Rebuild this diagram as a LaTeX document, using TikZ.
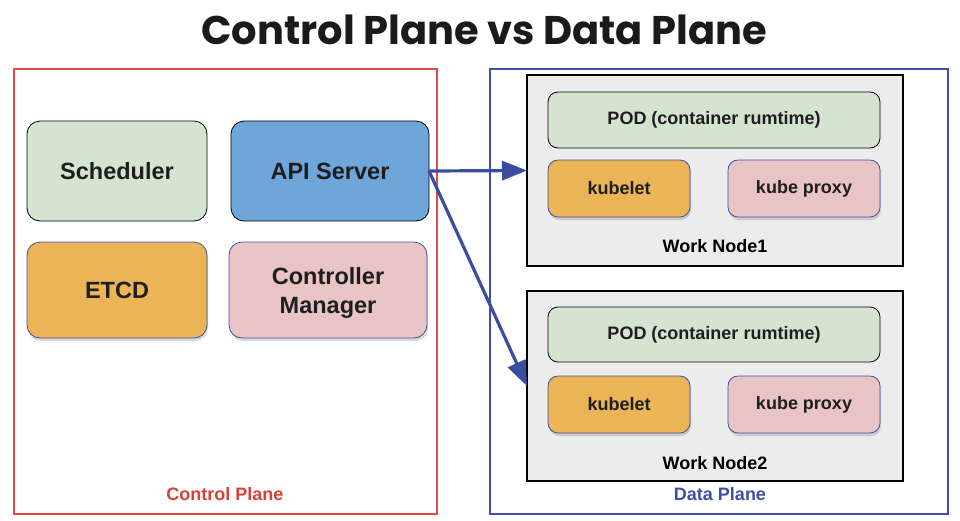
\documentclass[tikz,border=0pt]{standalone}
\usepackage{fontspec}
\setmainfont{Liberation Sans}
\newfontfamily\titlefont{Poppins}
\usetikzlibrary{arrows.meta,shadows}
\definecolor{cgreen}{HTML}{D5E4D1}
\definecolor{capi}{HTML}{6FA6D9}
\definecolor{corange}{HTML}{EBB456}
\definecolor{cpink}{HTML}{E8C4C4}
\definecolor{cgray}{HTML}{ECECEC}
\definecolor{cred}{HTML}{E04A48}
\definecolor{credtext}{HTML}{D94038}
\definecolor{cblue}{HTML}{3F4FA5}
\definecolor{carrow}{HTML}{3A4DA2}
\definecolor{ctext}{HTML}{1E1E1E}
\definecolor{ctitle}{HTML}{1A1A1A}
\tikzset{
  box/.style={rounded corners=13pt, inner sep=0pt, outer sep=0pt, line width=0.8pt,
    font=\fontsize{23.5}{29}\selectfont\bfseries, text=ctext, align=center},
  plainbox/.style={box, draw=black},
  shadowbox/.style={box, draw=cblue, drop shadow={opacity=0.3, shadow xshift=1pt, shadow yshift=-3pt}},
  small/.style={rounded corners=10pt, font=\fontsize{18}{21}\selectfont\bfseries},
  worknode/.style={draw=black, fill=cgray, line width=1.8pt, inner sep=0pt, outer sep=0pt},
  lbl/.style={font=\fontsize{18}{21}\selectfont\bfseries, inner sep=0pt},
  frame/.style={line width=1.8pt, inner sep=0pt, outer sep=0pt},
  conn/.style={draw=carrow, line width=3.2pt, -{Triangle[length=25pt,width=19pt]}}
}
\begin{document}
\begin{tikzpicture}[x=1pt,y=-1pt]
\useasboundingbox (0,0) rectangle (960,520);
\node[text=ctitle] (title) at (484,30) {\titlefont\fontsize{40}{44}\selectfont\bfseries Control Plane vs Data Plane};

% frames
\node[frame, draw=cred, minimum width=423pt, minimum height=445pt] (cp) at (225.5,291.5) {};
\node[frame, draw=cblue, minimum width=458pt, minimum height=445pt] (dp) at (719,291.5) {};
\node[lbl, text=credtext] (cplbl) at (225,494) {Control Plane};
\node[lbl, text=cblue] (dplbl) at (720,494) {Data Plane};

% control plane
\node[plainbox, fill=cgreen, minimum width=180pt, minimum height=100pt] (sched) at (117,171) {Scheduler};
\node[plainbox, fill=capi, minimum width=198pt, minimum height=100pt] (api) at (330,171) {API Server};
\node[shadowbox, fill=corange, minimum width=180pt, minimum height=96pt] (etcd) at (117,290) {ETCD};
\node[shadowbox, fill=cpink, minimum width=198pt, minimum height=96pt] (cm) at (328,290) {};
\node[box, inner sep=0pt] (cmtext) at (328,293) {Controller\\Manager};

% work node 1
\node[worknode, minimum width=376pt, minimum height=191pt] (wn1) at (715,170.5) {};
\node[plainbox, small, fill=cgreen, minimum width=332pt, minimum height=56pt] (pod1) at (714,120) {POD (container rumtime)};
\node[shadowbox, small, fill=corange, minimum width=142pt, minimum height=57pt] (kl1) at (619,188.5) {kubelet};
\node[shadowbox, small, fill=cpink, minimum width=152pt, minimum height=57pt] (kp1) at (804,188.5) {kube proxy};
\node[lbl, text=black] (wn1lbl) at (715,246) {Work Node1};

% work node 2
\node[worknode, minimum width=376pt, minimum height=190pt] (wn2) at (715,386) {};
\node[plainbox, small, fill=cgreen, minimum width=332pt, minimum height=55pt] (pod2) at (714,334.5) {POD (container rumtime)};
\node[shadowbox, small, fill=corange, minimum width=142pt, minimum height=57pt] (kl2) at (619,404.5) {kubelet};
\node[shadowbox, small, fill=cpink, minimum width=152pt, minimum height=57pt] (kp2) at (804,404.5) {kube proxy};
\node[lbl, text=black] (wn2lbl) at (715,463) {Work Node2};

% connectors
\draw[conn] (api.east) -- (wn1.west);
\draw[conn] (api.east) -- (wn2.west);
\end{tikzpicture}
\end{document}
